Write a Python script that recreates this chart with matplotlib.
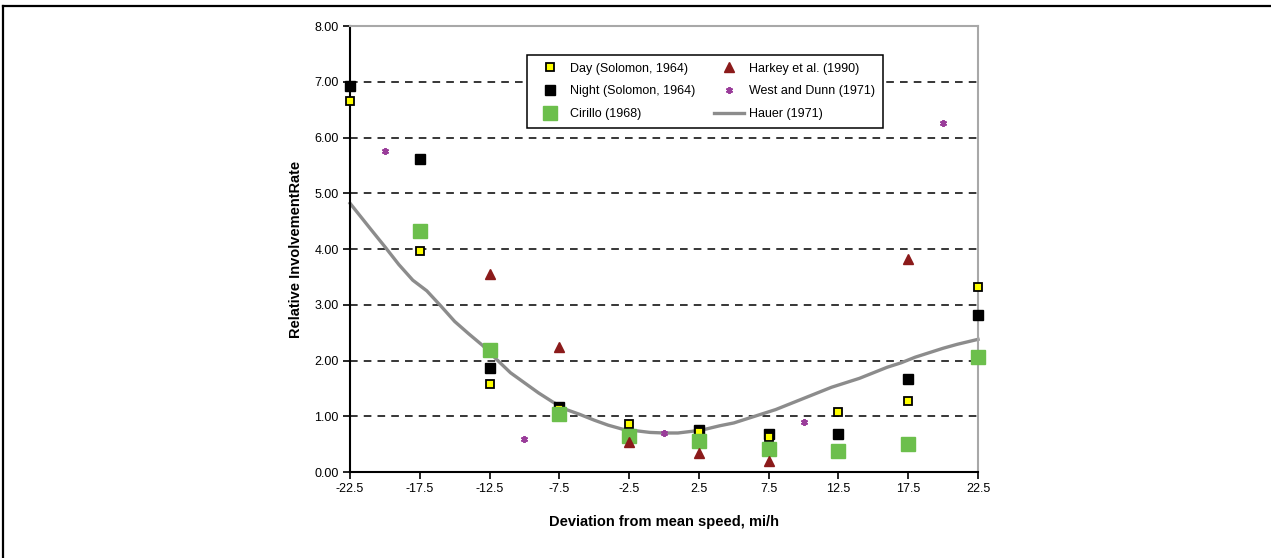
import matplotlib
matplotlib.use("Agg")
import matplotlib.pyplot as plt
from matplotlib.lines import Line2D

plt.rcParams['font.family'] = ['Liberation Sans', 'DejaVu Sans']

# Day (Solomon, 1964)
day_x = [-22.5, -17.5, -12.5, -7.5, -2.5, 2.5, 7.5, 12.5, 17.5, 22.5]
day_y = [6.65, 3.96, 1.57, 1.13, 0.87, 0.72, 0.63, 1.07, 1.27, 3.32]

# Night (Solomon, 1964)
night_x = [-22.5, -17.5, -12.5, -7.5, -2.5, 2.5, 7.5, 12.5, 17.5, 22.5]
night_y = [6.93, 5.62, 1.86, 1.16, 0.66, 0.75, 0.69, 0.69, 1.67, 2.82]

# Cirillo (1968)
cir_x = [-17.5, -12.5, -7.5, -2.5, 2.5, 7.5, 12.5, 17.5, 22.5]
cir_y = [4.32, 2.19, 1.04, 0.65, 0.55, 0.42, 0.37, 0.51, 2.07]

# Harkey et al. (1990)
hark_x = [-12.5, -7.5, -2.5, 2.5, 7.5, 17.5]
hark_y = [3.56, 2.25, 0.54, 0.34, 0.19, 3.82]

# West and Dunn (1971)
west_x = [-20, -10, 0, 10, 20]
west_y = [5.76, 0.60, 0.70, 0.89, 6.26]

# Hauer (1971)
hauer_x = [-22.5, -21, -20, -19, -18, -17, -16, -15, -14, -13, -12, -11, -10,
           -9, -8, -7, -6, -5, -4, -3, -2, -1, 0, 1, 2, 3, 4, 5, 6, 7, 8, 9,
           10, 11, 12, 13, 14, 15, 16, 17, 18, 19, 20, 21, 22.5]
hauer_y = [4.82, 4.35, 4.04, 3.72, 3.44, 3.25, 2.98, 2.70, 2.48, 2.27, 2.02,
           1.78, 1.60, 1.42, 1.26, 1.12, 1.03, 0.93, 0.84, 0.77, 0.74, 0.71,
           0.70, 0.70, 0.73, 0.77, 0.83, 0.88, 0.96, 1.04, 1.12, 1.22, 1.32,
           1.42, 1.52, 1.60, 1.68, 1.78, 1.88, 1.96, 2.06, 2.14, 2.22, 2.29,
           2.38]

x_ticks = [-22.5, -17.5, -12.5, -7.5, -2.5, 2.5, 7.5, 12.5, 17.5, 22.5]
y_ticks = [0, 1, 2, 3, 4, 5, 6, 7, 8]

fig = plt.figure(figsize=(12.71, 5.58), dpi=100)
ax = fig.add_axes([0.2754, 0.1541, 0.4941, 0.7993])

# outer frame (top and left only)
fig.add_artist(Line2D([0.0025, 1.0], [0.989, 0.989], color='black', lw=1.6,
                      transform=fig.transFigure))
fig.add_artist(Line2D([0.0025, 0.0025], [0.0, 0.989], color='black', lw=1.6,
                      transform=fig.transFigure))

for v in y_ticks[1:-1]:
    ax.axhline(v, color='black', lw=1.1, ls=(0, (5, 4)), zorder=1)

ax.plot(hauer_x, hauer_y, color='#8c8c8c', lw=2.4, zorder=2, clip_on=False,
        label='Hauer (1971)')
ax.plot(night_x, night_y, ls='none', marker='s', ms=6.5, mfc='black',
        mec='black', zorder=3, clip_on=False, label='Night (Solomon, 1964)')
ax.plot(day_x, day_y, ls='none', marker='s', ms=5.5, mfc='#ffff00',
        mec='black', mew=1.3, zorder=4, clip_on=False,
        label='Day (Solomon, 1964)')
ax.plot(cir_x, cir_y, ls='none', marker='s', ms=9.5, mfc='#6cbf4c',
        mec='#6cbf4c', zorder=5, clip_on=False, label='Cirillo (1968)')
ax.plot(hark_x, hark_y, ls='none', marker='^', ms=7, mfc='#8b1a1a',
        mec='#8b1a1a', zorder=6, clip_on=False, label='Harkey et al. (1990)')
ax.plot(west_x, west_y, ls='none', marker=(6, 2, 0), ms=5, mfc='#9a3d9a',
        mec='#9a3d9a', mew=1.4, zorder=6, clip_on=False,
        label='West and Dunn (1971)')

ax.set_xlim(-22.5, 22.5)
ax.set_ylim(0, 8)
ax.set_xticks(x_ticks)
ax.set_xticklabels([f"{t:.1f}" for t in x_ticks])
ax.set_yticks(y_ticks)
ax.set_yticklabels([f"{t:.2f}" for t in y_ticks])
ax.tick_params(axis='both', labelsize=9, length=5, width=1.2, direction='out',
               color='black', pad=3)

ax.spines['left'].set_color('black')
ax.spines['bottom'].set_color('black')
ax.spines['left'].set_linewidth(1.5)
ax.spines['bottom'].set_linewidth(1.5)
ax.spines['top'].set_color('#a8a8a8')
ax.spines['right'].set_color('#a8a8a8')
ax.spines['top'].set_linewidth(1.5)
ax.spines['right'].set_linewidth(1.5)

ax.set_xlabel("Deviation from mean speed, mi/h", fontsize=10.5,
              fontweight='bold', labelpad=14)
ax.set_ylabel("Relative InvolvementRate", fontsize=10.5, fontweight='bold',
              labelpad=8)

h, l = ax.get_legend_handles_labels()
order = ['Day (Solomon, 1964)', 'Night (Solomon, 1964)', 'Cirillo (1968)',
         'Harkey et al. (1990)', 'West and Dunn (1971)', 'Hauer (1971)']
hd = dict(zip(l, h))
leg = ax.legend([hd[k] for k in order], order, ncol=2, fontsize=9,
                loc='lower left', bbox_to_anchor=(0.282, 0.771, 0.567, 0.164),
                mode='expand', borderaxespad=0, frameon=True, fancybox=False,
                edgecolor='black', framealpha=1, handlelength=2.4,
                handletextpad=0.4, labelspacing=0.85, columnspacing=1.0,
                borderpad=0.65)
leg.get_frame().set_linewidth(1.1)
leg.set_zorder(10)

fig.savefig("out.png", dpi=100)
